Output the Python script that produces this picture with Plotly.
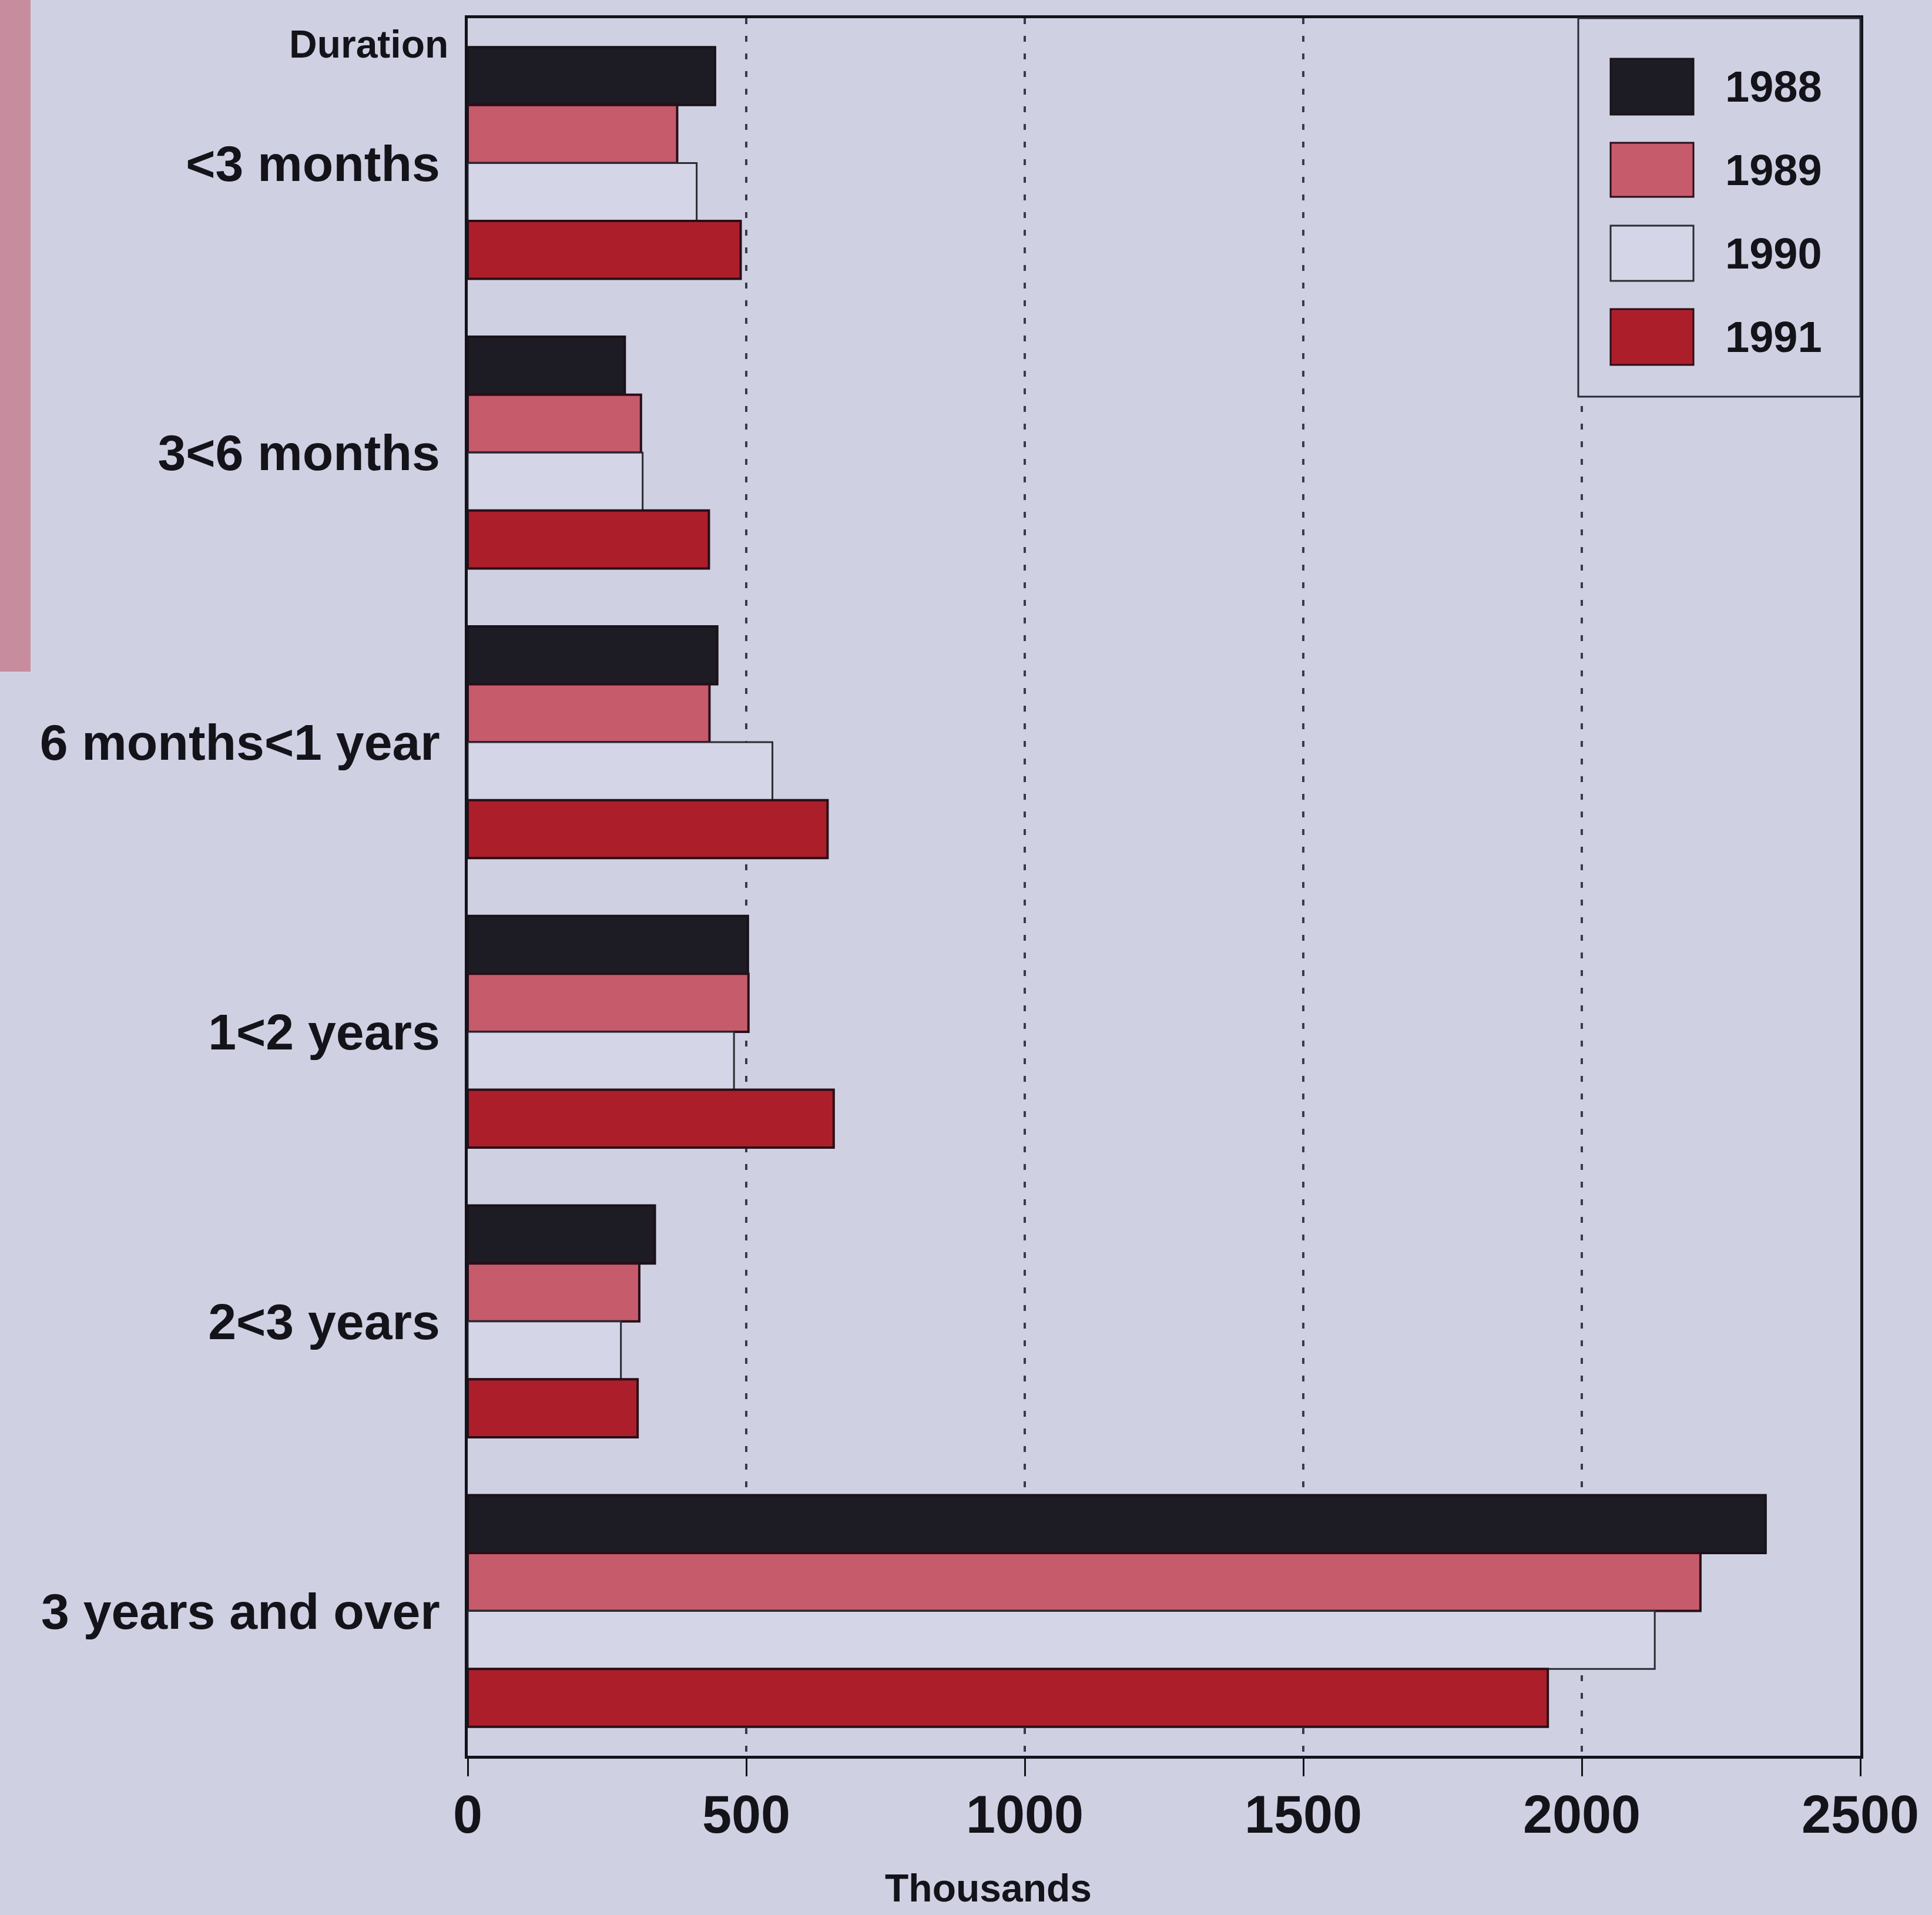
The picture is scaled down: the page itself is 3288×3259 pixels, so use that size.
import plotly.graph_objects as go

# Unemployment claimants by duration (thousands)
durations = ["<3 months", "3<6 months", "6 months<1 year", "1<2 years",
             "2<3 years", "3 years and over"]
years = ["1988", "1989", "1990", "1991"]
v1988 = [444, 282, 448, 503, 336, 2330]
v1989 = [376, 311, 434, 504, 308, 2213]
v1990 = [411, 314, 547, 478, 275, 2131]
v1991 = [490, 433, 646, 657, 305, 1939]
x_ticks = [0, 500, 1000, 1500, 2000, 2500]

series = [v1988, v1989, v1990, v1991]
fills = ["#1d1b24", "#c65b6c", "#d4d6e7", "#ac1f2a"]
edges = ["#1a1218", "#2a0e18", "#2b2b33", "#2a0e18"]
edge_w = [4, 4, 3, 4]

W, H = 3288, 3259
L, R, T, B = 796, 3166, 31, 2988   # plot-area edges in pixels
BG = "#cfd1e3"
INK = "#14131a"
FONT = "Liberation Sans, Arial, Helvetica, sans-serif"


def px(x):
    return (x - L) / (R - L)


def py(y):
    return (B - y) / (B - T)


fig = go.Figure()
for yr, vals, fc, ec, ew in zip(years, series, fills, edges, edge_w):
    fig.add_trace(go.Bar(
        y=durations, x=vals, name=yr, orientation="h",
        marker=dict(color=fc, line=dict(color=ec, width=ew)),
        showlegend=False,
    ))

shapes = []
# pink edge strip at the left of the page
shapes.append(dict(type="rect", xref="paper", yref="paper", layer="below",
                   x0=px(0), x1=px(52), y0=py(0), y1=py(1143),
                   fillcolor="#c78c9e", line=dict(width=0)))
# legend box
shapes.append(dict(type="rect", xref="paper", yref="paper", layer="above",
                   x0=px(R - 480), x1=px(R), y0=py(675), y1=py(T),
                   fillcolor=BG, line=dict(color="#2a2a35", width=3)))
rows = [(100, 195), (243, 335), (384, 478), (526, 621)]
annotations = []
for (top, bot), yr, fc, ec in zip(rows, years, fills, edges):
    shapes.append(dict(type="rect", xref="paper", yref="paper", layer="above",
                       x0=px(R - 425), x1=px(R - 284), y0=py(bot), y1=py(top),
                       fillcolor=fc, line=dict(color=ec, width=3)))
    annotations.append(dict(xref="paper", yref="paper", x=px(R - 232),
                            y=py((top + bot) / 2), text=yr, showarrow=False,
                            xanchor="left", yanchor="middle",
                            font=dict(family=FONT, size=74, color=INK,
                                      weight="bold")))

annotations.append(dict(xref="paper", yref="paper", x=px(765), y=py(75),
                        text="Duration", showarrow=False, xanchor="right",
                        yanchor="middle",
                        font=dict(family=FONT, size=66, color=INK,
                                  weight="bold")))
annotations.append(dict(xref="paper", yref="paper", x=px(1682), y=py(3213),
                        text="Thousands", showarrow=False, xanchor="center",
                        yanchor="middle",
                        font=dict(family=FONT, size=66, color=INK,
                                  weight="bold")))

fig.update_layout(
    width=W, height=H,
    margin=dict(l=L, r=W - R, t=T, b=H - B, pad=0),
    paper_bgcolor=BG, plot_bgcolor=BG,
    barmode="group", bargap=0.2, bargroupgap=0,
    shapes=shapes, annotations=annotations,
    font=dict(family=FONT, color=INK),
    xaxis=dict(
        range=[0, 2500], tickmode="array", tickvals=x_ticks,
        ticktext=[str(t) for t in x_ticks],
        ticks="outside", ticklen=30, tickwidth=3, tickcolor=INK,
        showgrid=True, gridcolor="#3a3a48", gridwidth=4,
        griddash="10px,20px",
        showline=True, linewidth=5, linecolor=INK, mirror=True,
        zeroline=False,
        tickfont=dict(family=FONT, size=90, color=INK, weight="bold"),
        ticklabelstandoff=-12,
    ),
    yaxis=dict(
        categoryorder="array", categoryarray=durations,
        autorange="reversed",
        showline=True, linewidth=5, linecolor=INK, mirror=True,
        ticks="", showgrid=False, zeroline=False,
        tickfont=dict(family=FONT, size=86, color=INK, weight="bold"),
        ticklabelstandoff=25,
    ),
)

fig.write_html("out.html")
